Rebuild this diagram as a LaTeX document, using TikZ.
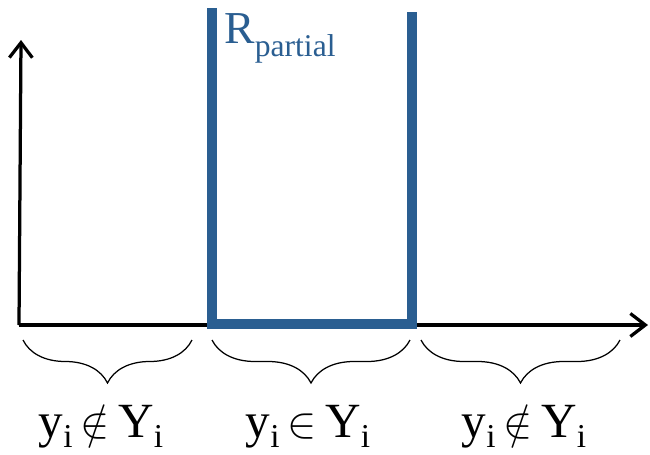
\documentclass[tikz,border=0pt]{standalone}
\usepackage{fontspec}
\setmainfont{Liberation Serif}
\usetikzlibrary{arrows.meta,decorations.pathreplacing}
\definecolor{rblue}{RGB}{42,94,145}
\newcommand{\lowi}{\raisebox{-6pt}{\fontsize{19}{19}\selectfont i}}
\newcommand{\relsym}[1]{\,{\fontsize{33}{33}\selectfont$#1$}\,}

\begin{document}
\begin{tikzpicture}[x=0.02cm, y=-0.02cm,
    >={Straight Barb[length=0.3cm, width=0.46cm]},
    axis/.style={->, line width=0.065cm},
    wall/.style={draw=rblue, line width=0.2cm, line join=miter},
    brc/.style={decorate, decoration={brace, mirror, amplitude=0.86cm}, line width=0.025cm},
    lbl/.style={anchor=base, inner sep=0pt, font=\fontsize{28}{32}\selectfont}]
  \useasboundingbox (0,0) rectangle (650,454);

  % axes
  \coordinate (O) at (19,325);
  \coordinate (ytop) at (21,40);
  \coordinate (xend) at (648,325);
  \draw[axis] (O) -- (ytop);
  \draw[axis] (O) -- (xend);

  % the partial reward
  \coordinate (wl) at (212,8);
  \coordinate (wlb) at (212,324);
  \coordinate (wrb) at (412,324);
  \coordinate (wr) at (412,12);
  \draw[wall] (wl) -- (wlb) -- (wrb) -- (wr);
  \node[anchor=base west, inner sep=0pt, text=rblue, font=\fontsize{26}{30}\selectfont] (rlab) at (224,43)
    {R\raisebox{-0.3em}{\fontsize{18}{20}\selectfont partial}};

  % braces
  \coordinate (b1l) at (23,340);  \coordinate (b1r) at (192,340);
  \coordinate (b2l) at (212,340); \coordinate (b2r) at (410,340);
  \coordinate (b3l) at (421,340); \coordinate (b3r) at (620,340);
  \draw[brc] (b1l) -- (b1r);
  \draw[brc] (b2l) -- (b2r);
  \draw[brc] (b3l) -- (b3r);

  \node[lbl] (l1) at (101,437) {y\lowi\relsym{\notin}Y\lowi};
  \node[lbl] (l2) at (308,437) {y\lowi\relsym{\in}Y\lowi};
  \node[lbl] (l3) at (524,437) {y\lowi\relsym{\notin}Y\lowi};
\end{tikzpicture}
\end{document}
